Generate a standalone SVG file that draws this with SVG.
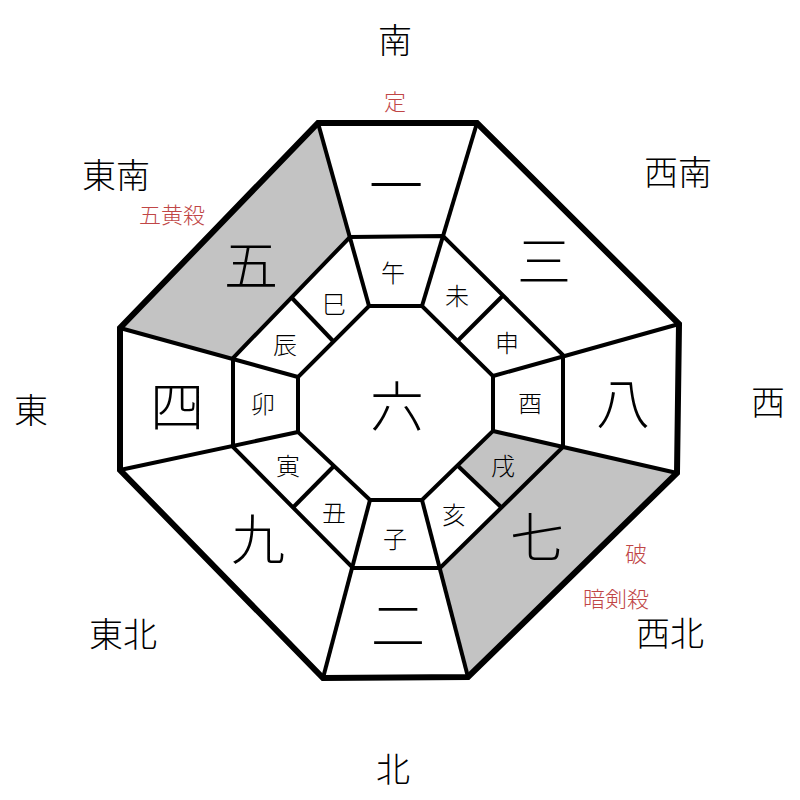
<svg xmlns="http://www.w3.org/2000/svg" width="800" height="800" viewBox="0 0 800 800">
<style>
text{font-family:"Noto Sans CJK JP","Noto Sans CJK SC",sans-serif;text-anchor:middle;dominant-baseline:central;fill:#000}
.dir{font-size:34px;font-weight:300}
.big{font-size:54px;font-weight:300}
.br{font-size:24px;font-weight:300}
.red{font-size:22px;fill:#c04646;font-weight:300}
.ln{fill:none;stroke:#000;stroke-width:4;stroke-linejoin:miter}
.outer{fill:none;stroke:#000;stroke-width:6;stroke-linejoin:miter}
.gray{fill:#c3c3c3;stroke:none}
</style>
<rect width="800" height="800" fill="#fff"/>
<g id="shading">
<polygon class="gray" points="318,123 120,328 233,358 350,237"/>
<polygon class="gray" points="677,473 468,677 440,568 563,447"/>
<polygon class="gray" points="563,447 501.5,507.5 457.5,465.5 493,431"/>
</g>
<g id="connectors">
<polygon class="ln" points="350,237 443,236 563,355 563,447 440,568 353,568 233,447 233,358"/>
<polygon class="ln" points="369,306 422,306 493,376 493,431 422,500 370,500 298,432 298,377"/>
<line class="ln" x1="318" y1="123" x2="369" y2="306"/>
<line class="ln" x1="477" y1="123" x2="422" y2="306"/>
<line class="ln" x1="679" y1="324" x2="493" y2="376"/>
<line class="ln" x1="677" y1="473" x2="493" y2="431"/>
<line class="ln" x1="468" y1="677" x2="422" y2="500"/>
<line class="ln" x1="323" y1="678" x2="370" y2="500"/>
<line class="ln" x1="120" y1="470" x2="298" y2="432"/>
<line class="ln" x1="120" y1="328" x2="298" y2="377"/>
<line class="ln" x1="291.5" y1="297.5" x2="333.5" y2="341.5"/>
<line class="ln" x1="503" y1="295.5" x2="457.5" y2="341"/>
<line class="ln" x1="501.5" y1="507.5" x2="457.5" y2="465.5"/>
<line class="ln" x1="293" y1="507.5" x2="334" y2="466"/>
<polygon class="outer" points="318,123 477,123 679,324 677,473 468,677 323,678 120,470 120,328"/>
</g>
<g id="center"><text class="big" x="397" y="403">六</text></g>
<g id="stars">
<text class="big" x="396" y="182">一</text>
<text class="big" x="544" y="258">三</text>
<text class="big" x="623" y="400">八</text>
<text class="big" x="537" y="534">七</text>
<text class="big" x="398" y="622">二</text>
<text class="big" x="258" y="536">九</text>
<text class="big" x="177" y="403">四</text>
<text class="big" x="251" y="262">五</text>
</g>
<g id="branches">
<text class="br" x="393" y="271">午</text>
<text class="br" x="457" y="294">未</text>
<text class="br" x="507" y="341">申</text>
<text class="br" x="530" y="401">酉</text>
<text class="br" x="503" y="464">戌</text>
<text class="br" x="454" y="513">亥</text>
<text class="br" x="395" y="537">子</text>
<text class="br" x="334" y="511">丑</text>
<text class="br" x="288" y="464">寅</text>
<text class="br" x="263" y="402">卯</text>
<text class="br" x="285" y="343">辰</text>
<text class="br" x="334" y="302">巳</text>
</g>
<g id="directions">
<text class="dir" x="395" y="38">南</text>
<text class="dir" x="678" y="170">西南</text>
<text class="dir" x="768" y="400">西</text>
<text class="dir" x="670" y="631">西北</text>
<text class="dir" x="393" y="767">北</text>
<text class="dir" x="123" y="632">東北</text>
<text class="dir" x="31" y="408">東</text>
<text class="dir" x="116" y="173">東南</text>
</g>
<g id="notes">
<text class="red" x="395" y="100">定</text>
<text class="red" x="172" y="213">五黄殺</text>
<text class="red" x="636" y="552">破</text>
<text class="red" x="616" y="597">暗剣殺</text>
</g>
</svg>
